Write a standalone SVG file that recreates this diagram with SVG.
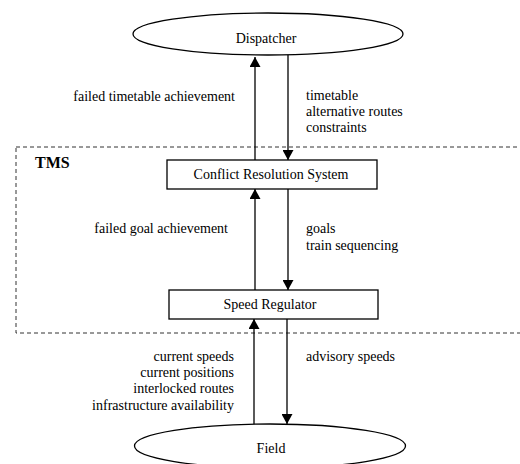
<svg xmlns="http://www.w3.org/2000/svg" width="520" height="464" viewBox="0 0 520 464">
<style>
text{font-family:"Liberation Serif","Times New Roman",serif;font-size:14px;fill:#000}
.node{fill:#fff;stroke:#000;stroke-width:1.3}
.lbl-r{text-anchor:end}
.ctr{text-anchor:middle}
.conn line{stroke:#000;stroke-width:1.3}
</style>
<defs>
<marker id="ah" viewBox="0 0 10 11" refX="10" refY="5.5" markerWidth="10" markerHeight="11" markerUnits="userSpaceOnUse" orient="auto">
<path d="M0,0 L10,5.5 L0,11 Z" fill="#000"/>
</marker>
</defs>
<g id="tms">
<rect x="16" y="147" width="520" height="186" fill="none" stroke="#333" stroke-width="1" stroke-dasharray="4 3"/>
<text x="35" y="168" style="font-weight:bold;font-size:16px">TMS</text>
</g>
<g id="dispatcher">
<ellipse class="node" cx="268" cy="34" rx="135" ry="21"/>
<text class="ctr" x="266" y="43">Dispatcher</text>
</g>
<g id="crs">
<rect class="node" x="167" y="160" width="210" height="29"/>
<text class="ctr" x="271" y="179">Conflict Resolution System</text>
</g>
<g id="sr">
<rect class="node" x="169" y="290" width="209" height="29"/>
<text class="ctr" x="270" y="309">Speed Regulator</text>
</g>
<g id="field">
<ellipse class="node" cx="270" cy="446" rx="135.5" ry="22"/>
<text class="ctr" x="271" y="453">Field</text>
</g>
<g class="conn" id="connectors">
<line x1="255" y1="160" x2="255" y2="57" marker-end="url(#ah)"/>
<line x1="288" y1="55" x2="288" y2="160" marker-end="url(#ah)"/>
<line x1="255" y1="290" x2="255" y2="189" marker-end="url(#ah)"/>
<line x1="288" y1="189" x2="288" y2="290" marker-end="url(#ah)"/>
<line x1="254" y1="424" x2="254" y2="319" marker-end="url(#ah)"/>
<line x1="287" y1="319" x2="287" y2="424" marker-end="url(#ah)"/>
</g>
<g id="labels">
<text class="lbl-r" x="235" y="101">failed timetable achievement</text>
<text x="306" y="100">timetable</text>
<text x="306" y="116">alternative routes</text>
<text x="306" y="132">constraints</text>
<text class="lbl-r" x="228" y="233">failed goal achievement</text>
<text x="306" y="233">goals</text>
<text x="306" y="250">train sequencing</text>
<text class="lbl-r" x="234" y="361">current speeds</text>
<text class="lbl-r" x="234" y="377">current positions</text>
<text class="lbl-r" x="234" y="393">interlocked routes</text>
<text class="lbl-r" x="234" y="410">infrastructure availability</text>
<text x="306" y="361">advisory speeds</text>
</g>
</svg>
